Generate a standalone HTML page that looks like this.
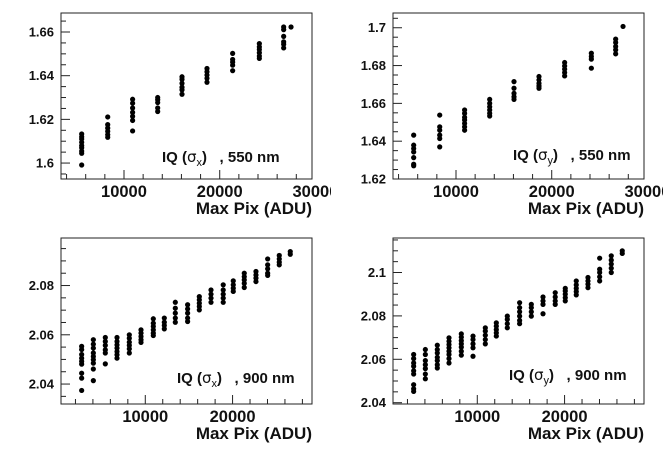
<!DOCTYPE html>
<html><head><meta charset="utf-8"><style>
html,body{margin:0;padding:0;background:#fff;width:664px;height:450px;overflow:hidden}
svg{display:block;font-family:"Liberation Sans",sans-serif;font-weight:bold}
</style></head><body>
<svg id="chart" width="664" height="450"></svg>
<script>
// ---- data ----
const p1X = [5580, 8300, 10900, 13520, 16060, 18670, 21350, 24140, 26680, 27450];
const p1Y = [
 [1.6133,1.612,1.611,1.6095,1.608,1.607,1.6055,1.6045,1.5991],
 [1.6211,1.6176,1.616,1.6145,1.613,1.6118],
 [1.6292,1.6274,1.6252,1.6232,1.6214,1.6195,1.6147],
 [1.630,1.629,1.6277,1.6252,1.6236],
 [1.6395,1.6383,1.6365,1.6347,1.6335,1.6315],
 [1.6433,1.6418,1.6403,1.6388,1.637],
 [1.6502,1.6474,1.6462,1.6448,1.6423],
 [1.6547,1.6532,1.652,1.6505,1.649,1.6479],
 [1.6623,1.6611,1.658,1.6555,1.6544,1.6527],
 [1.6623]
];
const p2X = [5580, 8300, 10900, 13520, 16060, 18670, 21350, 24140, 26680, 27450];
const p2Y = [
 [1.6432,1.6379,1.6361,1.6343,1.6313,1.6278,1.627],
 [1.6538,1.6476,1.6458,1.6432,1.6414,1.637],
 [1.6565,1.6547,1.6526,1.6512,1.6494,1.6476,1.6458],
 [1.6621,1.66,1.6582,1.6565,1.6547,1.6533],
 [1.6715,1.668,1.6653,1.6635,1.6621],
 [1.6742,1.6724,1.6706,1.6692,1.668],
 [1.6816,1.6798,1.6781,1.6763,1.6745],
 [1.6865,1.6848,1.6834,1.6786],
 [1.694,1.6922,1.6901,1.6883,1.6862],
 [1.7007]
];
const p3X = [2710,4050,5420,6760,8170,9510,10920,12180,13440,14850,16190,17530,18930,20080,21340,22680,24020,25350,26610];
const p3Y = [
 [2.0553,2.054,2.052,2.0505,2.0492,2.0481,2.0444,2.0424,2.0374],
 [2.058,2.0562,2.0546,2.0526,2.0512,2.0499,2.0485,2.0461,2.0414],
 [2.0589,2.0573,2.0557,2.0539,2.0526,2.0482],
 [2.0589,2.0573,2.0559,2.0546,2.0532,2.0519,2.0505],
 [2.06,2.0586,2.057,2.0557,2.0543,2.0526],
 [2.062,2.0607,2.0593,2.058,2.0569],
 [2.0665,2.0647,2.0634,2.062,2.0607,2.0597],
 [2.0668,2.0651,2.0638,2.0624],
 [2.0732,2.0708,2.0688,2.0668,2.0651],
 [2.0722,2.0705,2.0688,2.0668,2.0654],
 [2.0755,2.0742,2.0728,2.0715,2.0701],
 [2.0782,2.0765,2.0749,2.0732],
 [2.0803,2.0782,2.0765,2.0749,2.0732],
 [2.0819,2.0803,2.0789,2.0776],
 [2.085,2.0836,2.0823,2.0809,2.0792],
 [2.0857,2.0843,2.083,2.0816],
 [2.0908,2.0884,2.0868,2.085,2.0841],
 [2.0922,2.0908,2.0895,2.0884],
 [2.0938,2.0927]
];
const p4X = [2710,4050,5420,6760,8170,9510,10920,12180,13440,14850,16190,17530,18930,20080,21340,22680,24020,25350,26610];
const p4Y = [
 [2.0622,2.0603,2.0583,2.0568,2.0547,2.0532,2.0483,2.0464,2.0452],
 [2.0645,2.0622,2.0594,2.0575,2.0557,2.0532,2.051],
 [2.0665,2.0645,2.0629,2.0609,2.0594,2.0575,2.056],
 [2.0699,2.0683,2.0668,2.0653,2.0637,2.0622,2.0603,2.0583],
 [2.0717,2.0702,2.0686,2.0671,2.0656,2.0637,2.0619],
 [2.0707,2.0691,2.0671,2.0653,2.0614],
 [2.0745,2.073,2.0711,2.0691,2.0671],
 [2.0768,2.0753,2.0737,2.0722,2.0707],
 [2.0799,2.0784,2.0764,2.0745],
 [2.0861,2.0838,2.0819,2.0799,2.0779,2.0764],
 [2.0853,2.0838,2.0819,2.0799],
 [2.0887,2.0869,2.0853,2.081],
 [2.0907,2.0887,2.0869,2.0853],
 [2.0927,2.0915,2.09,2.0884,2.0869],
 [2.0961,2.0943,2.0927,2.0912,2.0897],
 [2.0977,2.0961,2.0946,2.093],
 [2.1066,2.1015,2.1,2.098,2.0961],
 [2.1077,2.1057,2.1039,2.102,2.1],
 [2.11,2.1088]
];
const p1YTicks = ["1.6","1.62","1.64","1.66"];
const p2YTicks = ["1.62","1.64","1.66","1.68","1.7"];
const p3YTicks = ["2.04","2.06","2.08"];
const p4YTicks = ["2.04","2.06","2.08","2.1"];
const topXTicks = ["10000","20000","30000"];
const botXTicks = ["10000","20000"];

const NS = "http://www.w3.org/2000/svg";
const svg = document.getElementById("chart");
function mk(tag, attrs, parent) {
  const e = document.createElementNS(NS, tag);
  for (const k in attrs) e.setAttribute(k, attrs[k]);
  parent.appendChild(e);
  return e;
}

function panel(id, ox, oy, frame, xr, yr, yStep, xStep, xs, ys, yTicks, xTicks, sub, wave, ann) {
  const g = mk("g", {}, svg);
  
  
  const clip = mk("clipPath", {id: id + "-clip"}, g);
  mk("rect", {x: ox, y: oy, width: 331, height: 225}, clip);
  g.setAttribute("clip-path", "url(#" + id + "-clip)");
  const L = ox + frame[0], R = ox + frame[1], T = oy + frame[2], B = oy + frame[3];
  const sx = v => L + (v - xr[0]) / (xr[1] - xr[0]) * (R - L);
  const sy = v => B - (v - yr[0]) / (yr[1] - yr[0]) * (B - T);
  const fr = mk("rect", {x: L, y: T, width: R - L, height: B - T, fill: "none", stroke: "#222", "stroke-width": 1}, g);
  
  
  const ym = yStep / 4;
  for (let v = Math.ceil(yr[0] / ym - 1e-6) * ym; v <= yr[1] + 1e-9; v += ym) {
    const major = Math.abs(Math.round(v / yStep) * yStep - v) < 1e-7;
    const y = sy(v);
    mk("line", {x1: L, x2: L + (major ? 9 : 5), y1: y, y2: y, stroke: "#222", "stroke-width": 1}, g);
  }
  yTicks.forEach(t => {
    const y = sy(parseFloat(t));
    const tx = mk("text", {x: L - 7, y: y + 4.5, "text-anchor": "end", "font-size": 13, fill: "#111"}, g);
    tx.textContent = t;
    
    
  });
  const xm = xStep / 5;
  for (let v = Math.ceil(xr[0] / xm) * xm; v <= xr[1]; v += xm) {
    const major = Math.abs(Math.round(v / xStep) * xStep - v) < 1e-6;
    const x = sx(v);
    mk("line", {x1: x, x2: x, y1: B, y2: B - (major ? 9 : 5), stroke: "#222", "stroke-width": 1}, g);
  }
  xTicks.forEach(t => {
    const x = sx(parseFloat(t));
    const tx = mk("text", {x: x, y: B + 18, "text-anchor": "middle", "font-size": 16.5, fill: "#111"}, g);
    tx.textContent = t;
    
    
  });
  const xt = mk("text", {x: R, y: B + 35, "text-anchor": "end", "font-size": 17, fill: "#111"}, g);
  xt.textContent = "Max Pix (ADU)";
  
  
  xs.forEach((xv, i) => {
    ys[i].forEach(yv => {
      const c = mk("circle", {cx: sx(xv), cy: sy(yv), r: 2.6, fill: "#000"}, g);
      
      
    });
  });
  const a = mk("text", {x: ox + ann[0], y: oy + ann[1], "font-size": 15, fill: "#111"}, g);
  
  
  const t1 = mk("tspan", {}, a); t1.textContent = "IQ (";
  const t2 = mk("tspan", {"font-weight": "normal", "font-family": "DejaVu Sans, sans-serif"}, a); t2.textContent = "σ";
  const t3 = mk("tspan", {"font-size": 11, dy: 4, "font-weight": "normal"}, a); t3.textContent = sub;
  const t4 = mk("tspan", {dy: -4}, a); t4.textContent = ")\u00a0\u00a0\u00a0, " + wave;
}

panel("panel-sigx-550", 0, 0, [61, 312, 13, 179], [3420, 29640], [1.5927, 1.6687], 0.02, 10000,
  p1X, p1Y, p1YTicks, topXTicks, "x", "550 nm", [162, 162]);
panel("panel-sigy-550", 332, 0, [61, 312, 13, 179], [3420, 29640], [1.62, 1.7078], 0.02, 10000,
  p2X, p2Y, p2YTicks, topXTicks, "y", "550 nm", [181, 160]);
panel("panel-sigx-900", 0, 225, [61, 312, 13, 179], [344, 29100], [2.0319, 2.0993], 0.02, 10000,
  p3X, p3Y, p3YTicks, botXTicks, "x", "900 nm", [177, 158]);
panel("panel-sigy-900", 332, 225, [61, 312, 13, 179], [344, 29100], [2.0394, 2.1159], 0.02, 10000,
  p4X, p4Y, p4YTicks, botXTicks, "y", "900 nm", [177, 155]);
</script>
</body></html>
